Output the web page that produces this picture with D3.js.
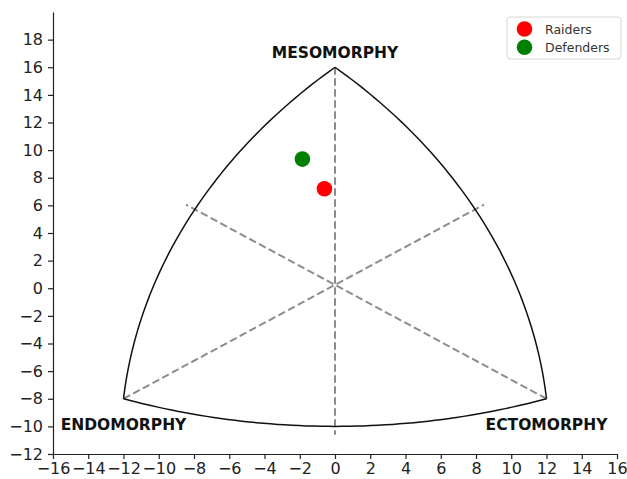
<!DOCTYPE html>
<html>
<head>
<meta charset="utf-8">
<script src="https://cdn.jsdelivr.net/npm/d3@7"></script>
<style>
  body { margin: 0; background: #fff; }
  svg { font-family: "DejaVu Sans", sans-serif; }
</style>
</head>
<body>
<svg id="chart" width="627" height="479"></svg>
<script>
// somatochart corners (mesomorphy, endomorphy, ectomorphy)
const cornerX = [0, -12, 12];
const cornerY = [16, -8, -8];
const cornerNames = ["MESOMORPHY", "ENDOMORPHY", "ECTOMORPHY"];
const labelX = [0, -12, 12];
const labelY = [17.1, -9.85, -9.85];

// dashed guide lines
const guideX1 = [0, -12, 12];
const guideY1 = [16, -8, -8];
const guideX2 = [0, 8.45, -8.45];
const guideY2 = [-10.6, 6.05, 6.05];

// team somatopoints
const teams = ["Raiders", "Defenders"];
const teamX = [-0.6, -1.85];
const teamY = [7.2, 9.35];
const teamColors = ["#ff0000", "#008000"];

const xTicks = [-16, -14, -12, -10, -8, -6, -4, -2, 0, 2, 4, 6, 8, 10, 12, 14, 16];
const yTicks = [-12, -10, -8, -6, -4, -2, 0, 2, 4, 6, 8, 10, 12, 14, 16, 18];

const arcRadius = 37;

const svg = d3.select("#chart"),
      width = +svg.attr("width"),
      height = +svg.attr("height");
const margin = { top: 12, right: 10, bottom: 25, left: 53 };

const x = d3.scaleLinear().domain([-16, 16]).range([margin.left, width - margin.right]);
const y = d3.scaleLinear().domain([-12, 20]).range([height - margin.bottom, margin.top]);

// points along a circular arc between two corners, bulging away from the origin
function arcPoints(p1, p2, r) {
    const mx = (p1[0] + p2[0]) / 2, my = (p1[1] + p2[1]) / 2;
    const vx = p2[0] - p1[0], vy = p2[1] - p1[1];
    const len = Math.hypot(vx, vy);
    let nx = -vy / len, ny = vx / len;
    if (nx * mx + ny * my < 0) { nx = -nx; ny = -ny; }
    const dist = Math.sqrt(r * r - (len / 2) * (len / 2));
    const cx = mx - nx * dist, cy = my - ny * dist;
    let a1 = Math.atan2(p1[1] - cy, p1[0] - cx);
    let a2 = Math.atan2(p2[1] - cy, p2[0] - cx);
    if (a2 - a1 > Math.PI) a2 -= 2 * Math.PI;
    if (a1 - a2 > Math.PI) a2 += 2 * Math.PI;
    return d3.range(0, 61).map(i => {
        const a = a1 + (a2 - a1) * i / 60;
        return [cx + r * Math.cos(a), cy + r * Math.sin(a)];
    });
}

const corners = cornerX.map((d, i) => [d, cornerY[i]]);
const edges = [[1, 0], [0, 2], [2, 1]];
const line = d3.line().x(d => x(d[0])).y(d => y(d[1]));

// guide lines
svg.append("g")
    .selectAll("line")
    .data(guideX1)
    .enter().append("line")
    .attr("x1", (d, i) => x(guideX1[i]))
    .attr("y1", (d, i) => y(guideY1[i]))
    .attr("x2", (d, i) => x(guideX2[i]))
    .attr("y2", (d, i) => y(guideY2[i]))
    .attr("stroke", "#8c8c8c")
    .attr("stroke-width", 2)
    .attr("stroke-dasharray", "7.5,3.5");

// curved outline
svg.append("g")
    .selectAll("path")
    .data(edges)
    .enter().append("path")
    .attr("d", e => line(arcPoints(corners[e[0]], corners[e[1]], arcRadius)))
    .attr("fill", "none")
    .attr("stroke", "#111")
    .attr("stroke-width", 1.5);

// corner labels
svg.append("g")
    .selectAll("text")
    .data(cornerNames)
    .enter().append("text")
    .attr("x", (d, i) => x(labelX[i]))
    .attr("y", (d, i) => y(labelY[i]))
    .attr("dy", "0.36em")
    .attr("text-anchor", "middle")
    .attr("font-weight", "bold")
    .attr("font-size", 15.5)
    .attr("fill", "#111")
    .text(d => d);

// team points
svg.append("g")
    .selectAll("circle")
    .data(teams)
    .enter().append("circle")
    .attr("cx", (d, i) => x(teamX[i]))
    .attr("cy", (d, i) => y(teamY[i]))
    .attr("r", 7.8)
    .attr("fill", (d, i) => teamColors[i]);

// axes
const fmt = d => d < 0 ? "\u2212" + Math.abs(d) : String(d);
const xAxis = svg.append("g")
    .attr("transform", `translate(0,${y(-12)})`)
    .call(d3.axisBottom(x).tickValues(xTicks).tickFormat(fmt).tickSize(5).tickPadding(4).tickSizeOuter(0));
const yAxis = svg.append("g")
    .attr("transform", `translate(${x(-16)},0)`)
    .call(d3.axisLeft(y).tickValues(yTicks).tickFormat(fmt).tickSize(5).tickPadding(5).tickSizeOuter(0));
[xAxis, yAxis].forEach(g => {
    g.selectAll("text").attr("font-size", 16).attr("fill", "#222").attr("font-family", "DejaVu Sans");
    g.selectAll("line").attr("stroke", "#222").attr("stroke-width", 1.2);
    g.select(".domain").attr("stroke", "#222").attr("stroke-width", 1.2);
});

// legend
const legend = svg.append("g").attr("transform", "translate(507,17)");
legend.append("rect")
    .attr("width", 114)
    .attr("height", 42)
    .attr("rx", 3)
    .attr("fill", "#fff")
    .attr("stroke", "#d6d6d6");
const item = legend.selectAll("g.item")
    .data(teams)
    .enter().append("g")
    .attr("class", "item")
    .attr("transform", (d, i) => `translate(0,${12 + i * 18.3})`);
item.append("circle")
    .attr("cx", 17.5)
    .attr("r", 7.8)
    .attr("fill", (d, i) => teamColors[i]);
item.append("text")
    .attr("x", 38)
    .attr("dy", "0.36em")
    .attr("font-size", 12.5)
    .attr("fill", "#333")
    .text(d => d);
</script>
</body>
</html>
